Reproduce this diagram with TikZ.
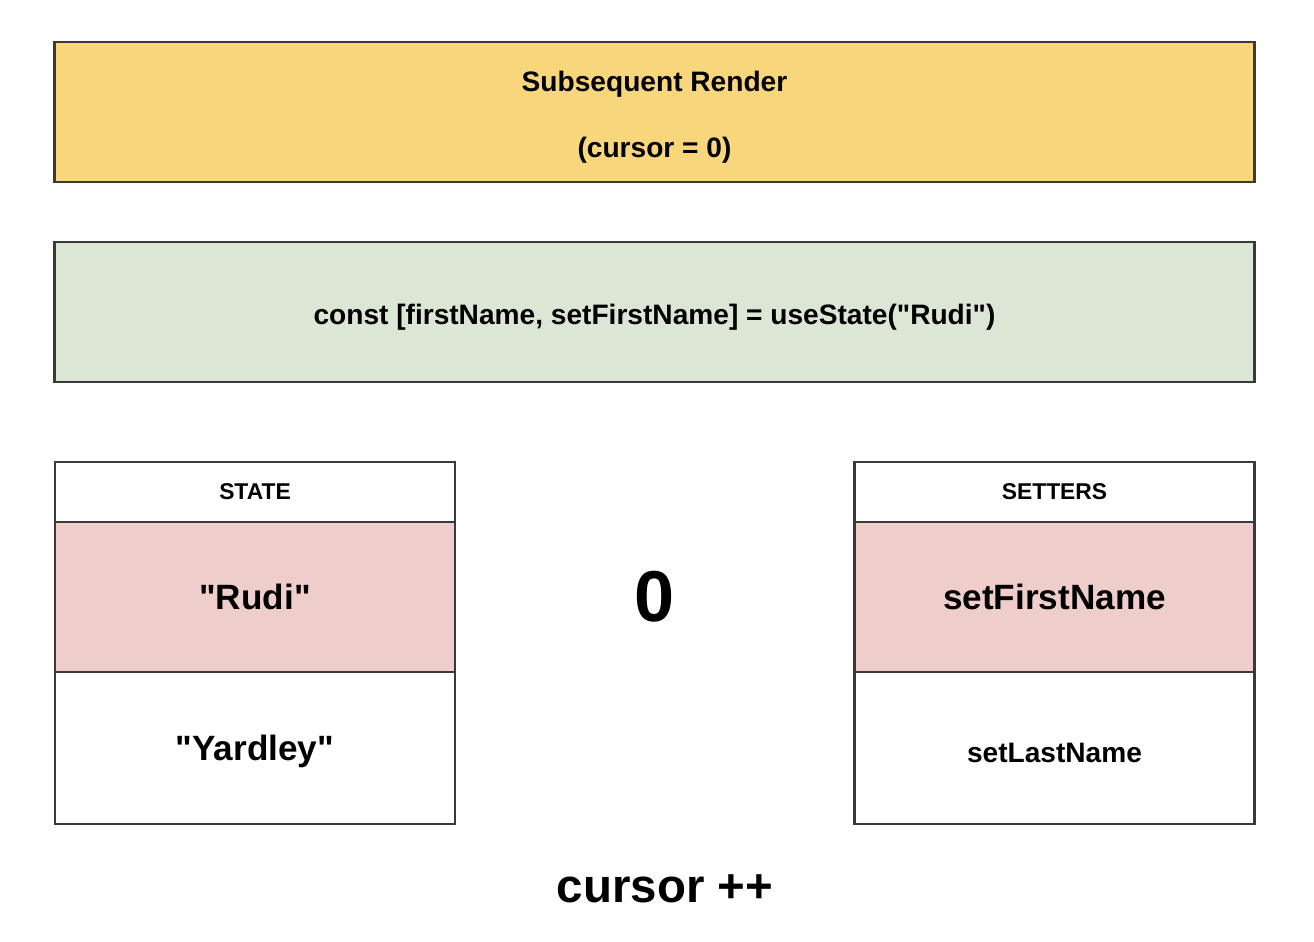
\documentclass[tikz,border=0pt]{standalone}
\usepackage{fontspec}
\setmainfont{Liberation Sans}[Ligatures=TeXOff]
\definecolor{renderyellow}{HTML}{F8D67B}
\definecolor{codegreen}{HTML}{DBE7D4}
\definecolor{activered}{HTML}{EFCDCB}
\definecolor{edgegray}{HTML}{3A3A3A}
\tikzset{
  cell/.style={draw=edgegray,line width=1.6pt,rectangle,inner sep=0pt,font=\bfseries},
  wide/.style={cell,minimum width=24.02cm,minimum height=2.8cm},
  col/.style={cell,minimum width=8cm}
}
\begin{document}
\begin{tikzpicture}[x=0.02cm,y=-0.02cm]
\useasboundingbox (0,0) rectangle (1314,942);
\node[wide,fill=renderyellow,align=center,font=\bfseries\fontsize{16}{19}\selectfont] (render) at (654.5,112) {\rule{0pt}{17.6pt}Subsequent Render\\[18.5pt](cursor = 0)};
\node[wide,fill=codegreen,font=\bfseries\fontsize{16}{19}\selectfont,text height=14.5pt,text depth=0pt] (hook) at (654.5,312) {const [firstName, setFirstName] = useState("Rudi")};
% state column
\node[col,minimum height=1.2cm,font=\bfseries\fontsize{13}{15}\selectfont] (statehead) at (255,492) {STATE};
\node[col,minimum height=3cm,fill=activered,font=\bfseries\fontsize{20}{24}\selectfont] (rudi) at (255,597) {"Rudi"};
\node[col,minimum height=3.04cm,font=\bfseries\fontsize{20}{24}\selectfont,text height=13.7pt,text depth=0pt] (yardley) at (255,748) {"Yardley"};
% setters column
\node[col,minimum height=1.2cm,font=\bfseries\fontsize{13}{15}\selectfont] (sethead) at (1054.5,492) {SETTERS};
\node[col,minimum height=3cm,fill=activered,font=\bfseries\fontsize{20}{24}\selectfont] (setfirst) at (1054.5,597) {setFirstName};
\node[col,minimum height=3.04cm,font=\bfseries\fontsize{16}{19}\selectfont,text height=16.1pt,text depth=0pt] (setlast) at (1054.5,748) {setLastName};
\node[font=\bfseries\fontsize{41}{48}\selectfont] (cursor) at (655,597) {0};
\node[font=\bfseries\fontsize{27}{32}\selectfont] (step) at (665,889) {cursor ++};
\end{tikzpicture}
\end{document}
